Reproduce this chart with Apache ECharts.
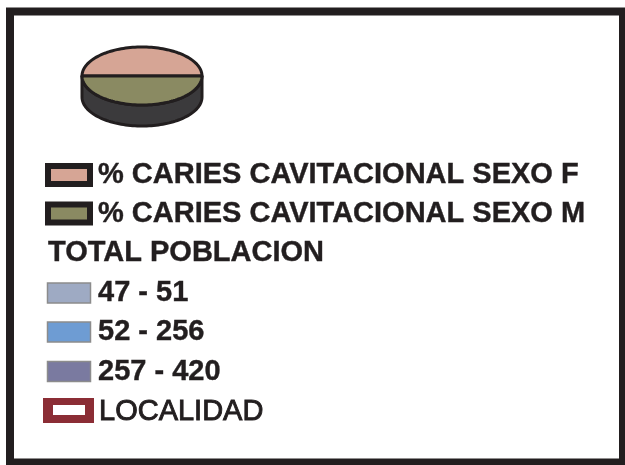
<!DOCTYPE html>
<html>
<head>
<meta charset="utf-8">
<script src="https://cdn.jsdelivr.net/npm/echarts@6/dist/echarts.min.js"></script>
<style>
  html, body { margin: 0; padding: 0; background: #fff; }
  #chart { width: 625px; height: 465px; }
</style>
</head>
<body>
<div id="chart"></div>
<script>
// leyenda del mapa: pie por sexo y clases de poblacion
var sexLabels = ['% CARIES CAVITACIONAL SEXO F', '% CARIES CAVITACIONAL SEXO M'];
var sexValues = [50, 50];
var sexColors = ['#d6a595', '#8a8a62'];
var popTitle = 'TOTAL POBLACION';
var popLabels = ['47 - 51', '52 - 256', '257 - 420'];
var popColors = ['#9eaac3', '#6e9cd3', '#7a7aa0'];
var placeLabel = 'LOCALIDAD';

var chart = echarts.init(document.getElementById('chart'));

var total = sexValues.reduce(function (a, b) { return a + b; }, 0);
var cx = 142, cy = 76, rx = 60, ry = 29, depth = 21;
var ink = '#221e1f';
var font = '"Liberation Sans", Arial, sans-serif';

function ellipsePts(a0, a1, dy, n) {
  var pts = [];
  for (var i = 0; i <= n; i++) {
    var a = a0 + (a1 - a0) * i / n;
    pts.push([cx + rx * Math.cos(a), cy + dy - ry * Math.sin(a)]);
  }
  return pts;
}

function renderSlice(params, api) {
  var idx = params.dataIndex;
  var before = 0;
  for (var i = 0; i < idx; i++) before += sexValues[i];
  var a0 = Math.PI - 2 * Math.PI * before / total;
  var a1 = a0 - 2 * Math.PI * api.value(0) / total;
  var children = [];
  if (idx === 0) {
    // canto del disco
    var side = ellipsePts(Math.PI, 2 * Math.PI, 0, 80)
      .concat(ellipsePts(2 * Math.PI, Math.PI, depth, 80));
    children.push({
      type: 'polygon',
      shape: { points: side },
      style: { fill: '#3b3a3c', stroke: ink, lineWidth: 3 }
    });
  }
  children.push({
    type: 'polygon',
    shape: { points: [[cx, cy]].concat(ellipsePts(a0, a1, 0, 80)) },
    style: { fill: sexColors[idx], stroke: ink, lineWidth: 3, lineJoin: 'round' }
  });
  return { type: 'group', children: children };
}

function label(text, x, y, bold) {
  return {
    type: 'text', x: x, y: y,
    style: {
      text: text, fill: ink, font: (bold ? 'bold ' : '') + '29px ' + font,
      textVerticalAlign: 'middle',
      stroke: ink, lineWidth: bold ? 0.4 : 0.9
    }
  };
}

var graphics = [
  {
    type: 'rect', z: 10,
    shape: { x: 10, y: 11.5, width: 613, height: 451 },
    style: { fill: 'none', stroke: ink, lineWidth: 8 }
  }
];

var sexRows = [175, 213.5];
sexLabels.forEach(function (t, i) {
  graphics.push({
    type: 'rect',
    shape: { x: 48, y: sexRows[i] - 9, width: 42, height: 18 },
    style: { fill: sexColors[i], stroke: ink, lineWidth: 6 }
  });
  graphics.push(label(t, 98, sexRows[i], true));
});

graphics.push(label(popTitle, 48, 253, true));

var popRows = [293, 332, 371.5];
popLabels.forEach(function (t, i) {
  graphics.push({
    type: 'rect',
    shape: { x: 47.5, y: popRows[i] - 10, width: 43, height: 20 },
    style: { fill: popColors[i], stroke: '#8c8c8c', lineWidth: 1.5 }
  });
  graphics.push(label(t, 98, popRows[i], true));
});

graphics.push({
  type: 'rect',
  shape: { x: 43, y: 398, width: 51, height: 25 },
  style: { fill: '#8b2d35' }
});
graphics.push({
  type: 'rect',
  shape: { x: 53, y: 405, width: 32, height: 10 },
  style: { fill: '#ffffff' }
});
graphics.push(label(placeLabel, 99, 411.5, false));

chart.setOption({
  backgroundColor: '#ffffff',
  animation: false,
  graphic: graphics,
  series: [{
    type: 'custom',
    coordinateSystem: 'none',
    renderItem: renderSlice,
    data: sexValues.map(function (v, i) { return { name: sexLabels[i], value: [v] }; })
  }]
});
</script>
</body>
</html>
